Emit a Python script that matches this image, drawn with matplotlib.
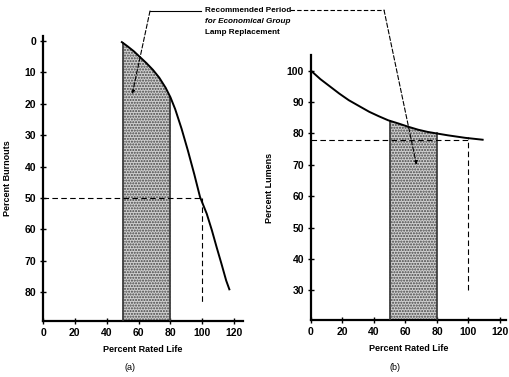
import numpy as np
import matplotlib.pyplot as plt
from matplotlib.lines import Line2D

plt.rcParams['font.family'] = ['Liberation Sans', 'DejaVu Sans']

# ------------------------------------
# Data
# ------------------------------------
burn_x = [49.5, 53, 57, 61, 65, 69, 73, 77, 80, 83, 87, 91, 95, 98.6, 102.8, 106, 109, 112, 115, 117]
burn_y = [0.5, 1.8, 3.4, 5.3, 7.2, 9.3, 11.8, 15, 18, 21.8, 28, 35, 42.5, 49.7, 55, 60.2, 65.6, 70.8, 76.2, 79]

lumen_x = [0, 6, 12, 18, 24, 31, 37, 43, 49, 56, 62, 68, 74, 81, 87, 98, 109]
lumen_y = [100, 97.3, 95, 92.7, 90.6, 88.6, 86.9, 85.5, 84.2, 83.1, 82.1, 81.2, 80.5, 79.9, 79.4, 78.6, 78]

x_ticks = [0, 20, 40, 60, 80, 100, 120]
burn_ticks = [0, 10, 20, 30, 40, 50, 60, 70, 80]
lumen_ticks = [30, 40, 50, 60, 70, 80, 90, 100]

period = (50, 80)       # recommended replacement window, % rated life
burn_half = 50          # 50 % burnouts
burn_half_life = 100
lumen_level = 78
note = ["Recommended Period", "for Economical Group", "Lamp Replacement"]
note_style = ["normal", "italic", "normal"]

W, H = 509, 377
fig = plt.figure(figsize=(W / 100, H / 100), dpi=100)


def px(x, y):
    # figure pixels measured from top-left -> figure fraction
    return x / W, 1 - y / H


def style(ax):
    for s in ("top", "right"):
        ax.spines[s].set_visible(False)
    for s in ("left", "bottom"):
        ax.spines[s].set_linewidth(1.6)
    ax.set_xticks(x_ticks)
    ax.tick_params(direction="inout", length=4, width=1, labelsize=7.5, pad=3)
    for lab in ax.get_xticklabels() + ax.get_yticklabels():
        lab.set_fontweight("bold")


shade = dict(facecolor="#d0d0d0", hatch="......", edgecolor="#444444", linewidth=0)
dash = (0, (5, 3))

# ------------------------------------
# (a) Percent burnouts
# ------------------------------------
ax1 = fig.add_axes([0.0845, 0.149, 0.393, 0.756])
ax1.set_xlim(0, 125.6)
ax1.set_ylim(89, -1.5)
ax1.set_yticks(burn_ticks)
ax1.plot(burn_x, burn_y, color="black", lw=1.4, zorder=4)

sx = np.linspace(period[0], period[1], 60)
sy = np.interp(sx, burn_x, burn_y)
ax1.fill_between(sx, sy, 89, **shade, zorder=2)
for p in period:
    ax1.plot([p, p], [np.interp(p, burn_x, burn_y), 89], color="#333333", lw=1.2, zorder=3)

ax1.plot([0, burn_half_life], [burn_half, burn_half], color="black", lw=0.8, ls=dash, zorder=3)
ax1.plot([burn_half_life, burn_half_life], [burn_half, 83], color="black", lw=0.8, ls=dash, zorder=3)
style(ax1)
ax1.set_xlabel("Percent Rated Life", fontsize=6.5, fontweight="bold", labelpad=5)
ax1.set_ylabel("Percent Burnouts", fontsize=6.5, fontweight="bold", labelpad=9)
fig.text(*px(130, 367), "(a)", fontsize=6.5, ha="center", va="center")

# ------------------------------------
# (b) Percent lumens
# ------------------------------------
ax2 = fig.add_axes([0.611, 0.151, 0.383, 0.703])
ax2.set_xlim(0, 123.8)
ax2.set_ylim(20.5, 105)
ax2.set_yticks(lumen_ticks)
ax2.plot(lumen_x, lumen_y, color="black", lw=1.4, zorder=4)

sy2 = np.interp(sx, lumen_x, lumen_y)
ax2.fill_between(sx, 20.5, sy2, **shade, zorder=2)
for p in period:
    ax2.plot([p, p], [20.5, np.interp(p, lumen_x, lumen_y)], color="#333333", lw=1.2, zorder=3)

ax2.plot([0, 100], [lumen_level, lumen_level], color="black", lw=0.8, ls=dash, zorder=3)
ax2.plot([100, 100], [30, lumen_level + 1], color="black", lw=0.8, ls=dash, zorder=3)
style(ax2)
ax2.set_xlabel("Percent Rated Life", fontsize=6.5, fontweight="bold", labelpad=5)
ax2.set_ylabel("Percent Lumens", fontsize=6.5, fontweight="bold", labelpad=9)
fig.text(*px(395, 367), "(b)", fontsize=6.5, ha="center", va="center")

# ------------------------------------
# Shared note with leader lines
# ------------------------------------
for i, (line, fs) in enumerate(zip(note, note_style)):
    fig.text(*px(205, 10 + 11.5 * i), line, fontsize=5.9, fontweight="bold", fontstyle=fs,
             ha="left", va="center")

fig.add_artist(Line2D(*zip(px(150, 11), px(201, 11)), transform=fig.transFigure, color="black", lw=0.8))
fig.add_artist(Line2D(*zip(px(290, 10), px(384, 10)), transform=fig.transFigure,
                      color="black", lw=0.8, ls=(0, (4, 2))))

ax1.annotate("", xy=(56, 17), xycoords="data", xytext=px(150, 11), textcoords="figure fraction",
             arrowprops=dict(arrowstyle="-|>", lw=0.8, ls=(0, (4, 2)), color="black",
                             mutation_scale=5, shrinkA=0, shrinkB=0), zorder=5)
ax2.annotate("", xy=(67, 70), xycoords="data", xytext=px(384, 10), textcoords="figure fraction",
             arrowprops=dict(arrowstyle="-|>", lw=0.8, ls=(0, (4, 2)), color="black",
                             mutation_scale=5, shrinkA=0, shrinkB=0), zorder=5)

fig.savefig("out.png", dpi=100)
